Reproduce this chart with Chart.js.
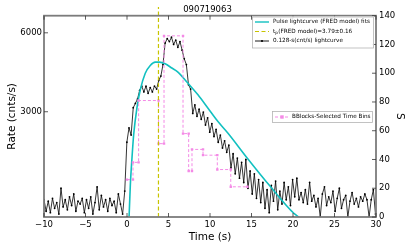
<!DOCTYPE html>
<html>
<head>
<meta charset="utf-8">
<script src="https://cdn.jsdelivr.net/npm/chart.js@4.4.1/dist/chart.umd.min.js"></script>
<style>
  html, body { margin: 0; padding: 0; background: #fff; }
</style>
</head>
<body>
<canvas id="lc" width="415" height="249"></canvas>
<script>
// GRB 090719063: 0.128-s lightcurve, FRED pulse fit and Bayesian blocks

// lightcurve, binned from -10 s (counts per bin, right axis)
const binStart = -10;
const binWidth = 0.256;
const lcCounts = [
  12, 4, 11, 3, 13, 6, 10, 2, 20, 7, 12, 5, 14, 8, 16, 4, 11, 9, 13, 3,
  12, 6, 14, 2, 10, 21, 5, 15, 7, 12, 4, 13, 8, 11, 3, 16, 9, 2,
  18, 52, 62, 57, 76, 79, 82, 88, 91, 87,
  91, 86, 90, 87, 91, 89, 95, 98, 106, 121,
  124, 122, 125, 120, 123, 118, 122, 116, 110, 106,
  92, 89, 72, 78, 70, 75, 68, 73, 64, 69,
  59, 65, 56, 61, 52, 57, 48, 53, 45, 50,
  34, 44, 30, 41, 27, 38, 24, 40, 20, 32,
  16, 30, 13, 26, 10, 24, 6, 19, 3, 22,
  11, 25, 5, 18, 9, 24, 12, 21, 8, 26,
  14, 27, 12,
  17, 10, 19, 9, 24, 11, 15, 7, 13, 0, 16, 21, 8, 14, 10, 18, 4, 13, 20, 6,
  12, 15, 0, 11, 17, 9, 13, 7, 14, 11, 16, 12, 0, 12, 19, 2
];

// FRED model curve
const fredTimes  = [0.25, 0.4, 0.6, 0.8, 1.2, 1.6, 2.2, 2.8, 3.4, 3.9, 4.6, 5.4, 6.1, 7.35, 8.55, 9.76, 10.96, 12.17, 14.5, 17.3, 20.1, 20.7];
const fredCounts = [0, 22, 41, 57, 76, 88.5, 100, 105.4, 107.7, 107.7, 106.6, 103.6, 101, 93, 85, 75.7, 66.4, 58.3, 40.9, 21, 2.6, 0];

// peak time of the FRED model
const peakTime = 3.79;
const peakSpan = [0, 146];

// Bayesian blocks
const blockEdges  = [0, 0.72, 1.4, 3.8, 4.46, 6.75, 7.43, 7.83, 9.16, 10.88, 12.5, 14.5];
const blockLevels = [26, 38, 81, 51, 126, 58, 32, 47, 43, 33, 21];

// ticks
const timeTicks  = [-10, -5, 0, 5, 10, 15, 20, 25, 30];
const rateTicks  = [3000, 6000];
const countTicks = [0, 20, 40, 60, 80, 100, 120, 140];

const FONT = 'DejaVu Sans';
Chart.defaults.font.family = FONT;
Chart.defaults.color = '#000';

const lcPoints = lcCounts.map((v, i) => ({ x: binStart + i * binWidth, y: v }));
const fredPoints = fredTimes.map((t, i) => ({ x: t, y: fredCounts[i] }));
const peakPoints = peakSpan.map(v => ({ x: peakTime, y: v }));
const blockPoints = [];
blockLevels.forEach((lvl, k) => {
  blockPoints.push({ x: blockEdges[k], y: lvl });
  blockPoints.push({ x: blockEdges[k + 1], y: lvl });
});

const CYAN = '#12c0c0';
const YELLOW = '#c8c400';
const PINK = '#f48ae6';

function setTicks(list) {
  return scale => { scale.ticks = list.map(v => ({ value: v })); };
}

// frame, inward tick marks and the two legends
const decorations = {
  id: 'decorations',
  afterDatasetsDraw(chart) {
    const { ctx, chartArea: a, scales } = chart;
    ctx.save();
    ctx.strokeStyle = '#7c7c7c';
    ctx.lineWidth = 1.8;
    ctx.strokeRect(a.left, a.top, a.right - a.left, a.bottom - a.top);

    ctx.strokeStyle = '#333';
    ctx.lineWidth = 0.8;
    ctx.beginPath();
    timeTicks.forEach(t => {
      const x = scales.x.getPixelForValue(t);
      ctx.moveTo(x, a.bottom); ctx.lineTo(x, a.bottom - 4);
      ctx.moveTo(x, a.top); ctx.lineTo(x, a.top + 4);
    });
    countTicks.forEach(v => {
      const y = scales.yS.getPixelForValue(v);
      ctx.moveTo(a.right, y); ctx.lineTo(a.right - 4, y);
    });
    rateTicks.forEach(v => {
      const y = scales.yRate.getPixelForValue(v);
      ctx.moveTo(a.left, y); ctx.lineTo(a.left + 4, y);
    });
    ctx.stroke();

    ctx.font = '5.7px "' + FONT + '"';
    ctx.textBaseline = 'middle';
    ctx.textAlign = 'left';

    // legend 1
    box(ctx, 252, 16.5, 122, 32);
    let y = 22;
    ctx.strokeStyle = CYAN; ctx.lineWidth = 1.4; ctx.setLineDash([]);
    line(ctx, 255, 269, y);
    ctx.fillStyle = '#000';
    ctx.fillText('Pulse lightcurve (FRED model) fits', 273, y);

    y = 31.5;
    ctx.strokeStyle = YELLOW; ctx.lineWidth = 1.2; ctx.setLineDash([4, 2.5]);
    line(ctx, 255, 269, y);
    ctx.setLineDash([]);
    ctx.fillStyle = '#000';
    ctx.fillText('t', 273, y);
    const tw = ctx.measureText('t').width;
    ctx.font = '4.2px "' + FONT + '"';
    ctx.fillText('p', 273 + tw, y + 1.8);
    const pw = ctx.measureText('p').width;
    ctx.font = '5.7px "' + FONT + '"';
    ctx.fillText('(FRED model)=3.79\u00b10.16', 273 + tw + pw + 0.3, y);

    y = 41;
    ctx.strokeStyle = '#000'; ctx.lineWidth = 0.9;
    line(ctx, 255, 269, y);
    ctx.beginPath(); ctx.arc(262, y, 1.1, 0, Math.PI * 2); ctx.fillStyle = '#000'; ctx.fill();
    ctx.fillText('0.128-s(cnt/s) lightcurve', 273, y);

    // legend 2
    box(ctx, 272, 111, 101, 12);
    y = 117;
    ctx.strokeStyle = PINK; ctx.lineWidth = 1; ctx.setLineDash([3, 2]);
    line(ctx, 275, 289, y);
    ctx.setLineDash([]);
    ctx.fillStyle = PINK;
    ctx.fillRect(280.3, y - 1.7, 3.4, 3.4);
    ctx.fillStyle = '#000';
    ctx.fillText('BBlocks-Selected Time Bins', 292, y);
    ctx.restore();
  }
};

function box(ctx, x, y, w, h) {
  ctx.fillStyle = 'rgba(255,255,255,0.92)';
  ctx.fillRect(x, y, w, h);
  ctx.strokeStyle = '#b4b4b4';
  ctx.lineWidth = 0.8;
  ctx.setLineDash([]);
  ctx.strokeRect(x + 0.5, y + 0.5, w - 1, h - 1);
}

function line(ctx, x0, x1, y) {
  ctx.beginPath(); ctx.moveTo(x0, y); ctx.lineTo(x1, y); ctx.stroke();
}

new Chart(document.getElementById('lc'), {
  type: 'line',
  data: {
    datasets: [
      {
        label: 'tp', data: peakPoints, yAxisID: 'yS', order: 0, clip: false,
        borderColor: YELLOW, borderWidth: 1.2, borderDash: [4, 2.5], pointRadius: 0
      },
      {
        label: 'BBlocks', data: blockPoints, yAxisID: 'yS', order: 1,
        borderColor: PINK, borderWidth: 1, borderDash: [3, 2],
        pointStyle: 'rect', pointRadius: 1.7, pointBackgroundColor: PINK, pointBorderWidth: 0
      },
      {
        label: 'FRED', data: fredPoints, yAxisID: 'yS', order: 2,
        borderColor: CYAN, borderWidth: 1.6, pointRadius: 0, cubicInterpolationMode: 'monotone'
      },
      {
        label: 'lightcurve', data: lcPoints, yAxisID: 'yS', order: 3,
        borderColor: '#000', borderWidth: 0.8,
        pointRadius: 0.9, pointBackgroundColor: '#000', pointBorderWidth: 0
      }
    ]
  },
  options: {
    responsive: false,
    animation: false,
    devicePixelRatio: 1,
    layout: { padding: 0 },
    plugins: {
      legend: { display: false },
      tooltip: { enabled: false },
      title: {
        display: true, text: '090719063', color: '#000',
        font: { size: 8.5, weight: 'normal' }, padding: { top: 4.5, bottom: 1 }
      }
    },
    scales: {
      x: {
        type: 'linear', position: 'bottom', min: -10, max: 30,
        afterBuildTicks: setTicks(timeTicks),
        afterFit: s => { s.height = 32; },
        grid: { display: false, drawTicks: false },
        border: { display: false },
        ticks: {
          autoSkip: false, maxRotation: 0, padding: 3, font: { size: 8.5 },
          callback: v => String(v).replace('-', '\u2212')
        },
        title: { display: true, text: 'Time (s)', font: { size: 10.5 }, padding: { top: 0, bottom: 5.7 } }
      },
      yRate: {
        type: 'linear', position: 'left', min: -1000, max: 6650,
        afterBuildTicks: setTicks(rateTicks),
        afterFit: s => { s.width = 44; },
        grid: { display: false, drawTicks: false },
        border: { display: false },
        ticks: { autoSkip: false, padding: 2, font: { size: 8.5 }, callback: v => String(v) },
        title: { display: true, text: 'Rate (cnts/s)', font: { size: 10.5 }, padding: { top: 5.7, bottom: 0 } }
      },
      yS: {
        type: 'linear', position: 'right', min: 0, max: 140,
        afterBuildTicks: setTicks(countTicks),
        afterFit: s => { s.width = 39; },
        grid: { display: false, drawTicks: false },
        border: { display: false },
        ticks: { autoSkip: false, padding: 3, font: { size: 8.5 } },
        title: { display: true, text: 'S', font: { size: 10.5 }, padding: { top: 8.7, bottom: 0 } }
      }
    }
  },
  plugins: [decorations]
});
</script>
</body>
</html>
